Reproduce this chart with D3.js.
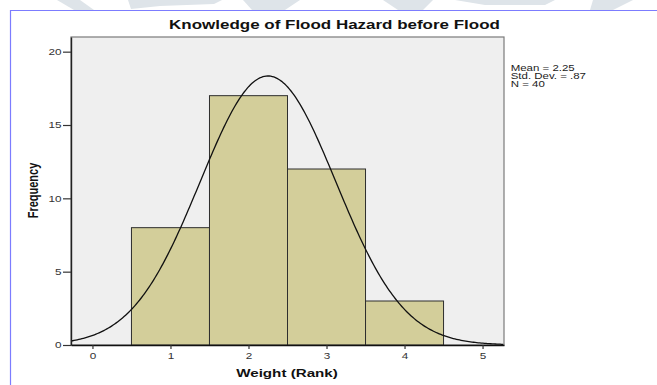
<!DOCTYPE html>
<html>
<head>
<meta charset="utf-8">
<script src="https://cdn.jsdelivr.net/npm/d3@7"></script>
<style>
  html, body { margin: 0; padding: 0; background: #fff; }
  svg { display: block; }
  text { font-family: "Liberation Sans", Arial, sans-serif; }
</style>
</head>
<body>
<svg id="chart" width="657" height="385"></svg>
<script>
// ---- data ----
const binCenters = [1, 2, 3, 4];
const frequencies = [8, 17, 12, 3];
const xTicks = [0, 1, 2, 3, 4, 5];
const yTicks = [0, 5, 10, 15, 20];
const statLines = ["Mean = 2.25", "Std. Dev. = .87", "N = 40"];
const statMean = 2.25, statSD = 0.87, statN = 40;
const title = "Knowledge of Flood Hazard before Flood";
const xLabel = "Weight (Rank)";
const yLabel = "Frequency";

// ---- layout ----
const svg = d3.select("#chart");
const L = 71, R = 504, T = 37, B = 345;
const SX = 1.38; // horizontal text stretch seen in the reference
const x = d3.scaleLinear().domain([-0.275, 5.275]).range([L, R]);
const y = d3.scaleLinear().domain([0, 21]).range([B, T]);

// faint watermark shapes at the top
const wm = [
  [[57,0],[80,0],[94,10],[74,10]],
  [[128,0],[222,0],[214,4],[160,6],[131,9]],
  [[243,0],[300,0],[285,10],[252,10]],
  [[383,0],[433,0],[423,10],[398,10]],
  [[455,0],[555,0],[545,5],[485,5]],
  [[593,0],[633,0],[613,10],[590,10]]
];
svg.selectAll("polygon.wm").data(wm).join("polygon")
  .attr("class", "wm")
  .attr("points", d => d.map(p => p.join(",")).join(" "))
  .attr("fill", "#dee4e9");

// blue frame
svg.append("line").attr("x1", 10).attr("x2", 657).attr("y1", 10.5).attr("y2", 10.5)
  .attr("stroke", "#7c7cff").attr("stroke-width", 1.2);
svg.append("line").attr("x1", 10.5).attr("x2", 10.5).attr("y1", 10).attr("y2", 385)
  .attr("stroke", "#7c7cff").attr("stroke-width", 1.2);

// plot background
svg.append("rect").attr("x", L).attr("y", T).attr("width", R - L).attr("height", B - T)
  .attr("fill", "#efefef").attr("stroke", "#7a7a7a").attr("stroke-width", 1.2);

// bars
const bw = 1;
svg.selectAll("rect.bar").data(binCenters).join("rect")
  .attr("class", "bar")
  .attr("x", (d) => x(d - bw / 2))
  .attr("y", (d, i) => y(frequencies[i]))
  .attr("width", (d) => x(d + bw / 2) - x(d - bw / 2))
  .attr("height", (d, i) => y(0) - y(frequencies[i]))
  .attr("fill", "#d3ce9a")
  .attr("stroke", "#2e2e2e")
  .attr("stroke-width", 1);

// normal curve from the stated mean, SD and N (bin width 1)
const xs = d3.range(-0.275, 5.2751, 0.02);
const curve = xs.map(v => [v, statN * bw / (statSD * Math.sqrt(2 * Math.PI)) *
  Math.exp(-0.5 * Math.pow((v - statMean) / statSD, 2))]);
svg.append("path").datum(curve)
  .attr("d", d3.line().x(d => x(d[0])).y(d => y(d[1])))
  .attr("fill", "none").attr("stroke", "#111").attr("stroke-width", 1.3);

// axes
const yAxis = svg.append("g").attr("transform", `translate(${L},0)`)
  .call(d3.axisLeft(y).tickValues(yTicks).tickFormat(d3.format("d"))
    .tickSize(8).tickSizeOuter(0).tickPadding(2));
yAxis.select(".domain").attr("stroke", "#222").attr("stroke-width", 1.4);
yAxis.selectAll(".tick line").attr("stroke", "#333").attr("stroke-width", 1.2);
yAxis.selectAll(".tick text")
  .attr("x", -9.5 / SX).attr("dy", "0.35em")
  .attr("transform", `scale(${SX},1)`)
  .attr("font-size", 8.5).attr("fill", "#333");

const xAxis = svg.append("g").attr("transform", `translate(0,${B})`)
  .call(d3.axisBottom(x).tickValues(xTicks).tickFormat(d3.format("d"))
    .tickSize(4).tickSizeOuter(0));
xAxis.select(".domain").attr("stroke", "#111").attr("stroke-width", 1.6);
xAxis.selectAll(".tick line").attr("stroke", "#333").attr("stroke-width", 1.2);
xAxis.selectAll(".tick text")
  .attr("y", 14).attr("dy", 0)
  .attr("transform", `scale(${SX},1)`)
  .attr("font-size", 8.5).attr("fill", "#333");

// title
svg.append("text")
  .attr("transform", `translate(334.5,29) scale(${SX},1)`)
  .attr("text-anchor", "middle").attr("font-size", 12.3).attr("font-weight", "bold")
  .attr("fill", "#111").text(title);

// x label
svg.append("text")
  .attr("transform", `translate(287,377.3) scale(${SX},1)`)
  .attr("text-anchor", "middle").attr("font-size", 11).attr("font-weight", "bold")
  .attr("fill", "#111").text(xLabel);

// y label
svg.append("text")
  .attr("transform", `translate(37.5,190.5) scale(${SX},1) rotate(-90)`)
  .attr("text-anchor", "middle").attr("font-size", 11).attr("font-weight", "bold")
  .attr("fill", "#111").text(yLabel);

// stats
svg.append("g").selectAll("text").data(statLines).join("text")
  .attr("transform", (d, i) => `translate(510.7,${71 + i * 8}) scale(${SX},1)`)
  .attr("font-size", 8.3).attr("fill", "#222").text(d => d);
</script>
</body>
</html>
